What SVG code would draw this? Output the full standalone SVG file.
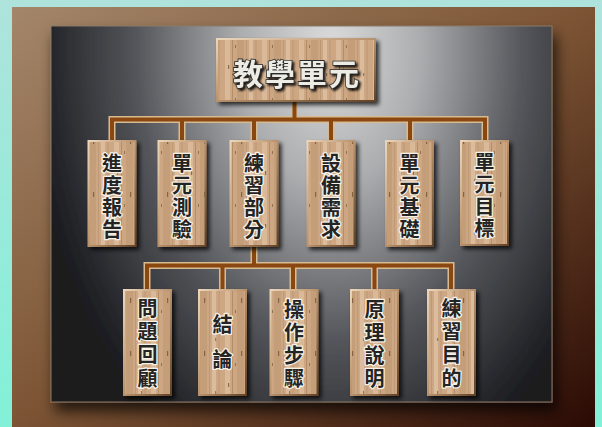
<svg xmlns="http://www.w3.org/2000/svg" width="602" height="427" viewBox="0 0 602 427">
<defs>
<linearGradient id="cyan" x1="0" y1="0" x2="0" y2="1">
<stop offset="0" stop-color="#aee3dc"/>
<stop offset="1" stop-color="#82f1d8"/>
</linearGradient>
<linearGradient id="frame" x1="0" y1="0" x2="1" y2="1">
<stop offset="0" stop-color="#a4866a"/>
<stop offset="0.5" stop-color="#7c5434"/>
<stop offset="1" stop-color="#2a0a04"/>
</linearGradient>
<radialGradient id="panel" gradientUnits="userSpaceOnUse" cx="0" cy="0" r="1" gradientTransform="translate(330 50) scale(300 450)">
<stop offset="0" stop-color="#dcdcdc"/>
<stop offset="0.3" stop-color="#acadaf"/>
<stop offset="0.65" stop-color="#53555a"/>
<stop offset="1" stop-color="#1a1b1f"/>
</radialGradient>
<linearGradient id="bevel" x1="0" y1="0" x2="1" y2="1">
<stop offset="0" stop-color="#ecd6ba"/>
<stop offset="0.5" stop-color="#b8916c"/>
<stop offset="1" stop-color="#624226"/>
</linearGradient>
<pattern id="wood" patternUnits="userSpaceOnUse" width="37" height="53">
<rect width="37" height="53" fill="#cda784"/>
<rect x="3" width="5" height="53" fill="#dcbe9c" opacity="0.8"/>
<rect x="15" width="7" height="53" fill="#bd9772" opacity="0.6"/>
<rect x="27" width="4" height="53" fill="#dec2a2" opacity="0.8"/>
<line x1="10.5" y1="0" x2="10.5" y2="53" stroke="#98704a" stroke-width="0.8" opacity="0.6"/>
<line x1="24.5" y1="0" x2="24.5" y2="53" stroke="#a47c54" stroke-width="0.7" opacity="0.5"/>
<line x1="34" y1="0" x2="34" y2="53" stroke="#966c46" stroke-width="0.6" opacity="0.5"/>
<rect x="6" y="12" width="1.2" height="4" fill="#704c2c" opacity="0.7"/>
<rect x="19" y="33" width="1.2" height="5" fill="#704c2c" opacity="0.7"/>
<rect x="30" y="20" width="1.2" height="3" fill="#704c2c" opacity="0.6"/>
<rect x="13" y="45" width="1" height="3" fill="#704c2c" opacity="0.6"/>
</pattern>
<filter id="shadow" x="-20%" y="-20%" width="150%" height="150%">
<feDropShadow dx="3" dy="3" stdDeviation="2" flood-color="#000" flood-opacity="0.75"/>
</filter>
<filter id="pshadow" x="-10%" y="-10%" width="120%" height="125%">
<feDropShadow dx="4" dy="9" stdDeviation="7" flood-color="#000" flood-opacity="0.7"/>
</filter>
<filter id="tshadow" x="-10%" y="-20%" width="130%" height="150%">
<feDropShadow dx="2" dy="2" stdDeviation="1" flood-color="#000" flood-opacity="0.85"/>
</filter>
</defs>
<style>
.wood { fill: url(#wood); stroke: url(#bevel); stroke-width: 2; filter: url(#shadow); }
.lbl { font-family: "Noto Sans CJK TC", "Noto Sans CJK SC", sans-serif; font-size: 20px; font-weight: 700; fill: #242424; stroke: #f6f1e6; stroke-width: 2.6; paint-order: stroke; stroke-linejoin: round; text-anchor: middle; dominant-baseline: central; }
.title { font-family: "Noto Sans CJK TC", "Noto Sans CJK SC", sans-serif; font-size: 30px; font-weight: 700; fill: #ecebe4; stroke: #2a2a2a; stroke-width: 1.6; paint-order: stroke; letter-spacing: 2px; text-anchor: middle; dominant-baseline: central; filter: url(#tshadow); }
.pipe-o { fill: none; stroke: #d9bb92; stroke-width: 7; stroke-linejoin: miter; }
.pipe-i { fill: none; stroke: #8a4810; stroke-width: 4; stroke-linejoin: miter; }
</style>

<rect width="602" height="427" fill="url(#cyan)"/>
<rect x="12" y="7" width="583" height="420" fill="url(#frame)"/>
<rect x="51" y="26" width="501" height="376" fill="url(#panel)" stroke="#8a7866" stroke-width="1" filter="url(#pshadow)"/>

<g id="connectors">
<path class="pipe-o" d="M294.5,100 V119.5 M112,142 V119.5 H485 V142 M182,119.5 V142 M254,119.5 V142 M331,119.5 V142 M410,119.5 V142 M254,246 V265.5 M147,291 V265.5 H451 V291 M222.5,265.5 V291 M293,265.5 V291 M374.5,265.5 V291"/>
<path class="pipe-i" d="M294.5,100 V119.5 M112,142 V119.5 H485 V142 M182,119.5 V142 M254,119.5 V142 M331,119.5 V142 M410,119.5 V142 M254,246 V265.5 M147,291 V265.5 H451 V291 M222.5,265.5 V291 M293,265.5 V291 M374.5,265.5 V291"/>
</g>

<g id="n-title">
<rect class="wood" x="217" y="39" width="158" height="62"/>
<text class="title" x="297" y="72">教學單元</text>
</g>

<g id="n-jindu">
<rect class="wood" x="88.5" y="141" width="47" height="105"/>
<text class="lbl"><tspan x="112" y="162">進</tspan><tspan x="112" y="184">度</tspan><tspan x="112" y="206">報</tspan><tspan x="112" y="228">告</tspan></text>
</g>
<g id="n-ceyan">
<rect class="wood" x="158.5" y="141" width="47" height="105"/>
<text class="lbl"><tspan x="182" y="162">單</tspan><tspan x="182" y="184">元</tspan><tspan x="182" y="206">測</tspan><tspan x="182" y="228">驗</tspan></text>
</g>
<g id="n-lianxi">
<rect class="wood" x="230.5" y="141" width="47" height="105"/>
<text class="lbl"><tspan x="254" y="162">練</tspan><tspan x="254" y="184">習</tspan><tspan x="254" y="206">部</tspan><tspan x="254" y="228">分</tspan></text>
</g>
<g id="n-shebei">
<rect class="wood" x="307.5" y="141" width="47" height="105"/>
<text class="lbl"><tspan x="331" y="162">設</tspan><tspan x="331" y="184">備</tspan><tspan x="331" y="206">需</tspan><tspan x="331" y="228">求</tspan></text>
</g>
<g id="n-jichu">
<rect class="wood" x="386" y="141" width="47" height="105"/>
<text class="lbl"><tspan x="409.5" y="162">單</tspan><tspan x="409.5" y="184">元</tspan><tspan x="409.5" y="206">基</tspan><tspan x="409.5" y="228">礎</tspan></text>
</g>
<g id="n-mubiao">
<rect class="wood" x="461" y="141" width="47" height="104"/>
<text class="lbl"><tspan x="484.5" y="161">單</tspan><tspan x="484.5" y="183">元</tspan><tspan x="484.5" y="205">目</tspan><tspan x="484.5" y="227">標</tspan></text>
</g>

<g id="n-wenti">
<rect class="wood" x="124" y="290" width="47" height="105"/>
<text class="lbl"><tspan x="147.5" y="307">問</tspan><tspan x="147.5" y="330">題</tspan><tspan x="147.5" y="353">回</tspan><tspan x="147.5" y="377">顧</tspan></text>
</g>
<g id="n-jielun">
<rect class="wood" x="199" y="290" width="47" height="105"/>
<text class="lbl"><tspan x="222.5" y="323">結</tspan><tspan x="222.5" y="358">論</tspan></text>
</g>
<g id="n-caozuo">
<rect class="wood" x="270.5" y="290" width="47" height="105"/>
<text class="lbl"><tspan x="294" y="308">操</tspan><tspan x="294" y="331">作</tspan><tspan x="294" y="354">步</tspan><tspan x="294" y="377">驟</tspan></text>
</g>
<g id="n-yuanli">
<rect class="wood" x="351" y="290" width="47" height="105"/>
<text class="lbl"><tspan x="374.5" y="308">原</tspan><tspan x="374.5" y="331">理</tspan><tspan x="374.5" y="354">說</tspan><tspan x="374.5" y="377">明</tspan></text>
</g>
<g id="n-mudi">
<rect class="wood" x="428" y="290" width="47" height="105"/>
<text class="lbl"><tspan x="451.5" y="307">練</tspan><tspan x="451.5" y="330">習</tspan><tspan x="451.5" y="353">目</tspan><tspan x="451.5" y="377">的</tspan></text>
</g>
</svg>
